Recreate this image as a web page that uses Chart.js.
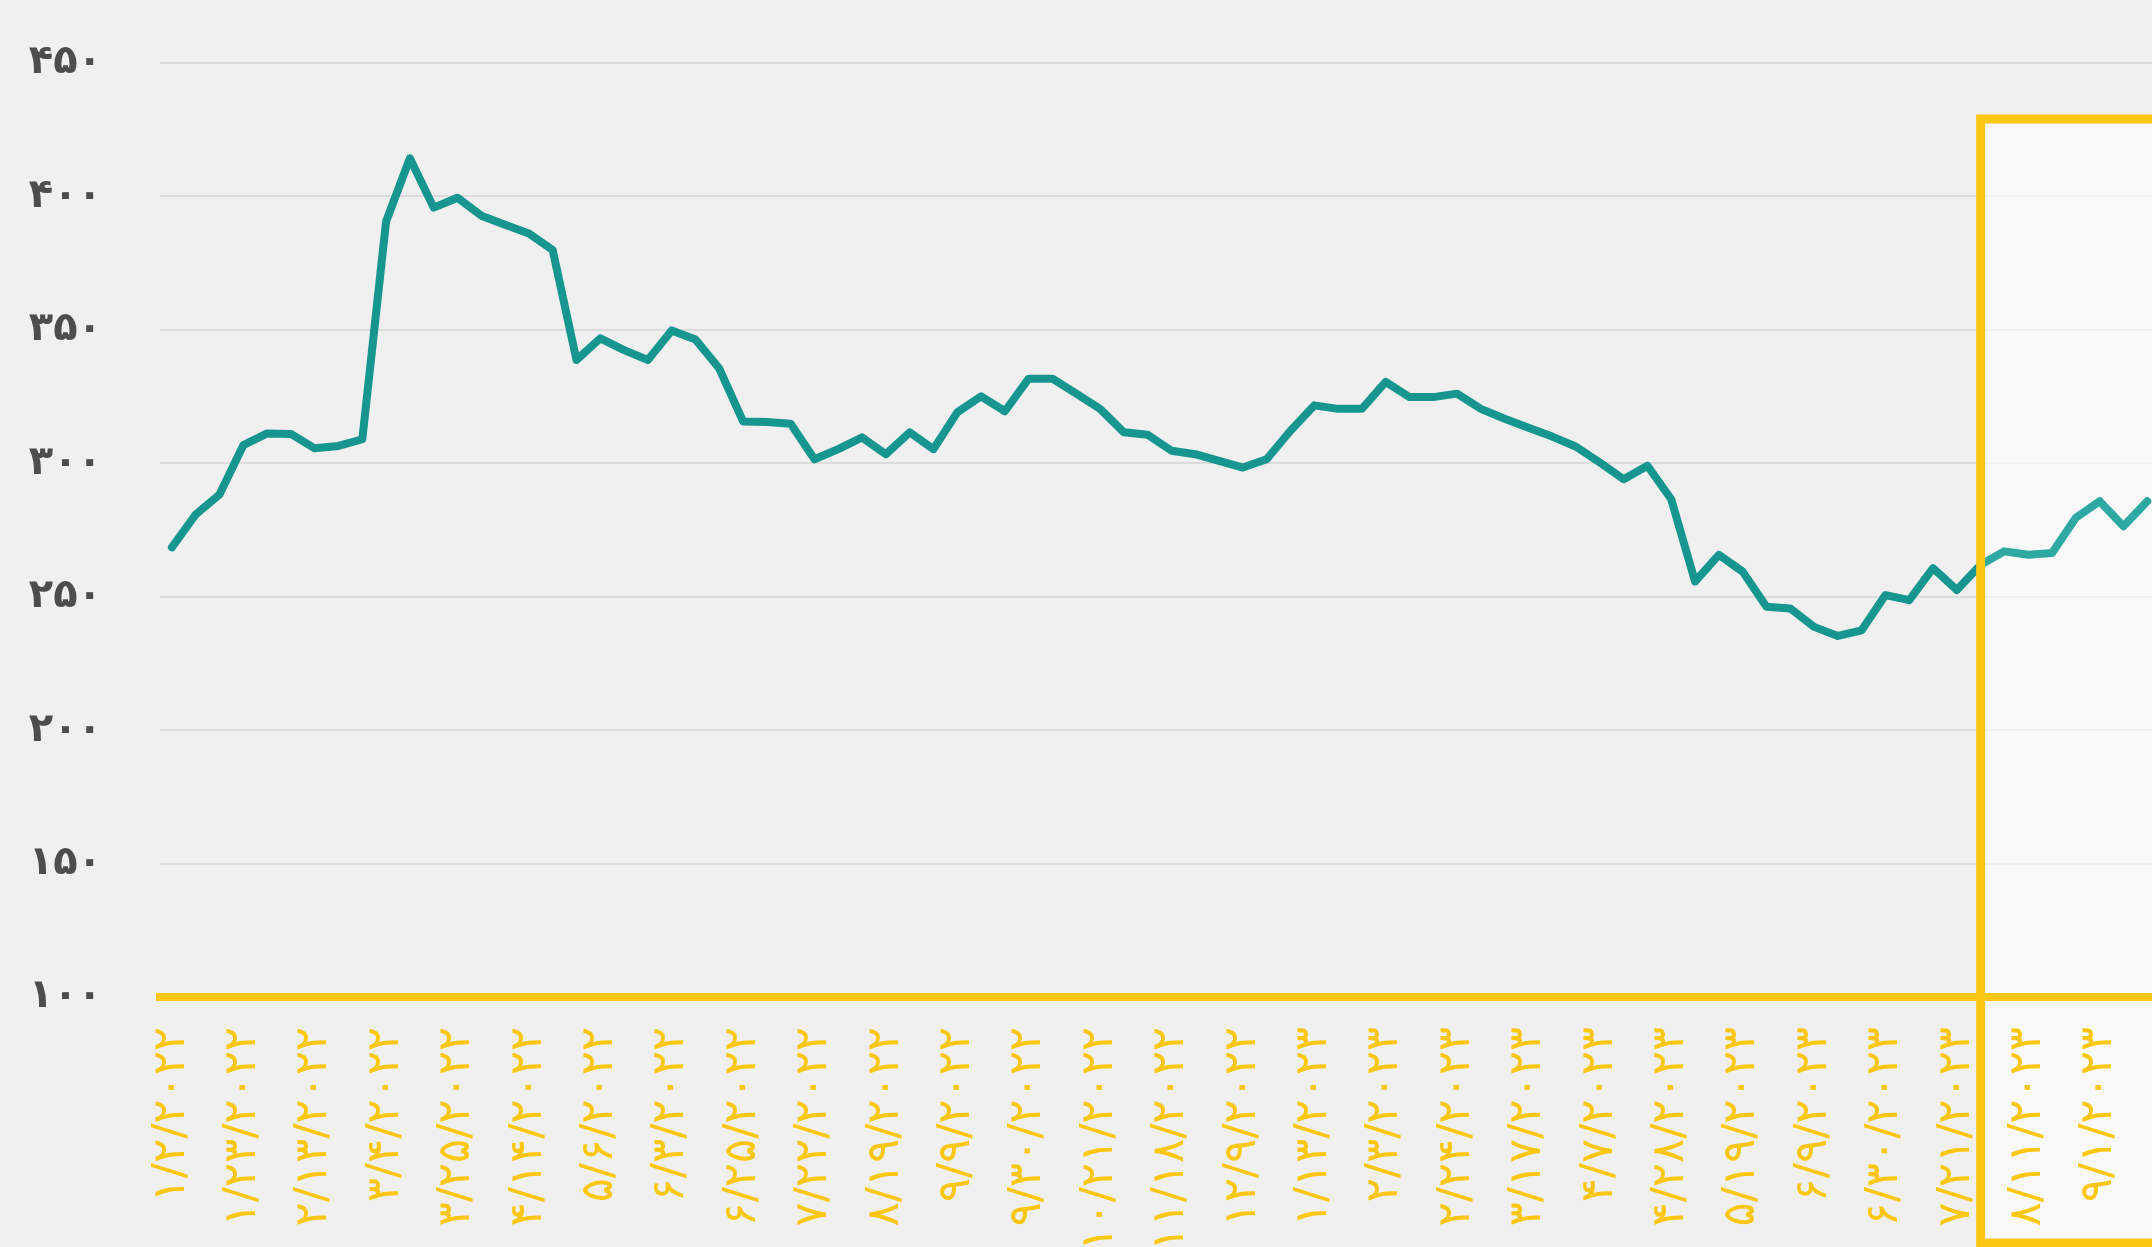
<!DOCTYPE html>
<html lang="fa">
<head>
<meta charset="utf-8">
<title>نمودار قیمت</title>
<script src="https://cdn.jsdelivr.net/npm/chart.js@4.4.1/dist/chart.umd.min.js"></script>
<style>
  html, body { margin: 0; padding: 0; background: #f0f0f0; overflow: hidden; }
  #wrap { width: 2152px; height: 1247px; }
</style>
</head>
<body>
<div id="wrap"><canvas id="chart"></canvas></div>
<script>
// tick labels shown under the axis, one every 3 weekly points
const dateLabels = [
  '۱/۲/۲۰۲۲', '۱/۲۳/۲۰۲۲', '۲/۱۳/۲۰۲۲', '۳/۴/۲۰۲۲', '۳/۲۵/۲۰۲۲', '۴/۱۴/۲۰۲۲', '۵/۶/۲۰۲۲',
  '۶/۳/۲۰۲۲', '۶/۲۵/۲۰۲۲', '۷/۲۲/۲۰۲۲', '۸/۱۹/۲۰۲۲', '۹/۹/۲۰۲۲', '۹/۳۰/۲۰۲۲', '۱۰/۲۱/۲۰۲۲',
  '۱۱/۱۸/۲۰۲۲', '۱۲/۹/۲۰۲۲', '۱/۱۳/۲۰۲۳', '۲/۳/۲۰۲۳', '۲/۲۴/۲۰۲۳', '۳/۱۷/۲۰۲۳', '۴/۷/۲۰۲۳',
  '۴/۲۸/۲۰۲۳', '۵/۱۹/۲۰۲۳', '۶/۹/۲۰۲۳', '۶/۳۰/۲۰۲۳', '۷/۲۱/۲۰۲۳', '۸/۱۱/۲۰۲۳', '۹/۱/۲۰۲۳'
];
const labelStep = 3;

// weekly values
const prices = [
  268.5, 280.8, 288.3, 306.8, 311.2, 311.0, 305.6, 306.5, 309.0, 390.6,
  414.3, 395.8, 399.5, 392.8, 389.4, 386.1, 379.9, 338.7, 346.8, 342.4,
  338.7, 349.8, 346.4, 335.5, 315.7, 315.5, 314.8, 301.5, 305.3, 309.7,
  303.4, 311.6, 305.3, 319.1, 325.1, 319.5, 331.7, 331.7, 326.1, 320.4,
  311.6, 310.7, 304.7, 303.4, 300.9, 298.4, 301.5, 312.2, 321.7, 320.4,
  320.4, 330.5, 324.8, 324.8, 326.1, 320.4, 316.7, 313.3, 310.0, 306.2,
  300.3, 294.0, 299.1, 286.5, 255.7, 265.7, 259.4, 246.2, 245.6, 238.7,
  235.3, 237.4, 250.6, 248.7, 260.7, 252.5, 262.0, 267.0, 265.7, 266.4,
  279.6, 285.8, 276.4, 285.8
];

const yTicks = [100, 150, 200, 250, 300, 350, 400, 450];
const yTickLabels = ['۱۰۰', '۱۵۰', '۲۰۰', '۲۵۰', '۳۰۰', '۳۵۰', '۴۰۰', '۴۵۰'];

// highlighted frame on the right
const frameFromIndex = 76;
const frameTopValue = 429;

const YELLOW = '#fbc712';
const TEAL = '#16968f';
const TEAL_LIGHT = '#2ea9a2';

const frameFill = {
  id: 'frameFill',
  beforeDatasetsDraw(chart) {
    const { ctx, scales: { x, y } } = chart;
    const left = x.getPixelForValue(frameFromIndex);
    const top = y.getPixelForValue(frameTopValue);
    ctx.save();
    ctx.fillStyle = 'rgba(255,255,255,0.6)';
    ctx.fillRect(left, top, chart.width - left + 20, chart.height - top);
    ctx.restore();
  },
  afterDraw(chart) {
    const { ctx, scales: { x, y } } = chart;
    const left = x.getPixelForValue(frameFromIndex);
    const top = y.getPixelForValue(frameTopValue);
    ctx.save();
    ctx.strokeStyle = YELLOW;
    ctx.lineWidth = 9;
    ctx.strokeRect(left, top, chart.width - left + 20, chart.height - 4 - top);
    ctx.restore();
  }
};

new Chart(document.getElementById('chart'), {
  type: 'line',
  data: {
    datasets: [
      {
        data: prices.map((v, i) => ({ x: i, y: v })),
        borderColor: TEAL,
        borderWidth: 8,
        borderJoinStyle: 'round',
        borderCapStyle: 'round',
        pointRadius: 0,
        tension: 0,
        fill: false,
        segment: {
          borderColor: (ctx) => (ctx.p0DataIndex >= frameFromIndex ? TEAL_LIGHT : TEAL)
        }
      }
    ]
  },
  options: {
    responsive: true,
    maintainAspectRatio: false,
    animation: false,
    layout: { padding: { top: 63, right: 0, left: 0, bottom: 0 } },
    plugins: { legend: { display: false }, tooltip: { enabled: false } },
    scales: {
      x: {
        type: 'linear',
        min: -0.5,
        max: prices.length - 0.8,
        afterBuildTicks: (scale) => {
          scale.ticks = dateLabels.map((_, i) => ({ value: i * labelStep }));
        },
        afterFit: (scale) => {
          scale.height = 250;
          scale.paddingLeft = 0;
          scale.paddingRight = 0;
        },
        grid: { display: false, drawTicks: false },
        border: { color: YELLOW, width: 8, z: 1 },
        ticks: {
          z: 1,
          autoSkip: false,
          minRotation: 90,
          maxRotation: 90,
          padding: 30,
          color: YELLOW,
          font: { family: 'DejaVu Sans', size: 45 },
          callback: (value) => dateLabels[value / labelStep]
        }
      },
      y: {
        min: 100,
        max: 450,
        afterBuildTicks: (scale) => {
          scale.ticks = yTicks.map((v) => ({ value: v }));
        },
        afterFit: (scale) => {
          scale.width = 160;
          scale.paddingTop = 0;
          scale.paddingBottom = 0;
        },
        grid: { color: '#dcdcdc', lineWidth: 2, drawTicks: false },
        border: { display: false },
        ticks: {
          padding: 58,
          color: '#4d4d4d',
          font: { family: 'DejaVu Sans', weight: 'bold', size: 40 },
          callback: (value) => yTickLabels[yTicks.indexOf(value)]
        }
      }
    }
  },
  plugins: [frameFill]
});
</script>
</body>
</html>
